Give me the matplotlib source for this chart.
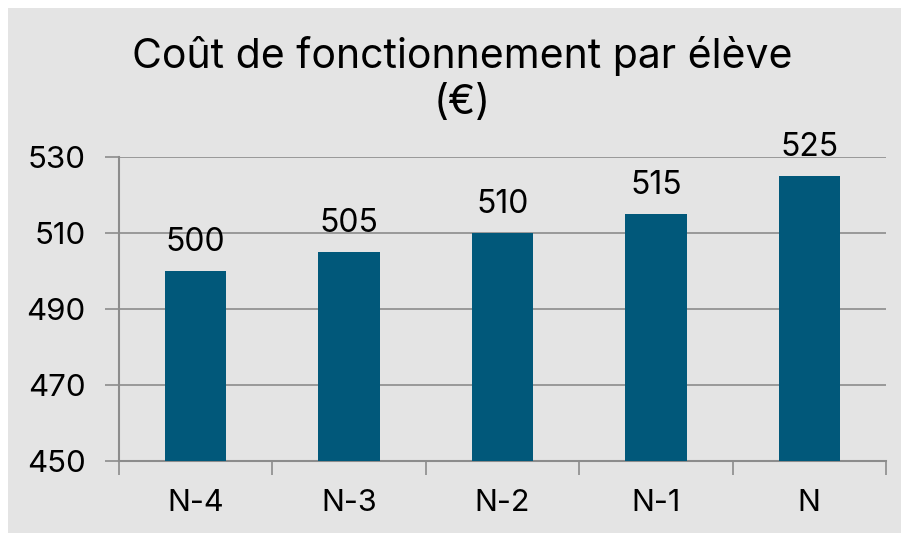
import matplotlib.pyplot as plt
from matplotlib.patches import Rectangle

# Data
categories = ["N-4", "N-3", "N-2", "N-1", "N"]
values = [500, 505, 510, 515, 525]
y_ticks = [450, 470, 490, 510, 530]

bg = "#e4e4e4"
bar_color = "#01587a"
line_color = "#8c8c8c"

plt.rcParams['font.family'] = ['Inter', 'DejaVu Sans']

fig = plt.figure(figsize=(9.01, 5.33), dpi=100, facecolor="white")
fig.patches.append(Rectangle((8 / 901, 0), 1, 1 - 8 / 533, transform=fig.transFigure,
                             facecolor=bg, edgecolor="none", zorder=-10))

ax = fig.add_axes([119 / 901, (533 - 461) / 533, (886 - 119) / 901, (461 - 157) / 533])
ax.set_facecolor(bg)

x = range(len(categories))
ax.bar(x, values, width=0.4, color=bar_color, zorder=3)
ax.set_ylim(450, 530)
ax.set_xlim(-0.5, len(categories) - 0.5)
ax.set_yticks(y_ticks)
ax.set_yticklabels([str(v) for v in y_ticks], fontsize=22.5)
ax.yaxis.grid(True, color=line_color, linewidth=1.2, zorder=0)

# category labels between boundary ticks
ax.set_xticks([i - 0.5 for i in range(len(categories) + 1)])
ax.set_xticklabels([])
ax.set_xticks(list(x), minor=True)
ax.set_xticklabels(categories, minor=True, fontsize=22)
ax.tick_params(axis='x', which='minor', length=0, pad=20)
ax.tick_params(axis='x', which='major', length=10, width=1.2, color=line_color)
ax.tick_params(axis='y', length=10, width=1.2, color=line_color, pad=14)

for s in ['top', 'right']:
    ax.spines[s].set_visible(False)
for s in ['left', 'bottom']:
    ax.spines[s].set_color(line_color)
    ax.spines[s].set_linewidth(1.5)

for i, v in enumerate(values):
    ax.text(i, v + 3.3, str(v), ha='center', va='bottom', fontsize=23, zorder=4)

fig.text(462 / 901, 1 - 79 / 533, "Coût de fonctionnement par élève\n(€)",
         ha='center', va='center', fontsize=29.5, linespacing=1.25)

fig.savefig("out.png", dpi=100, facecolor="white")
plt.close()
